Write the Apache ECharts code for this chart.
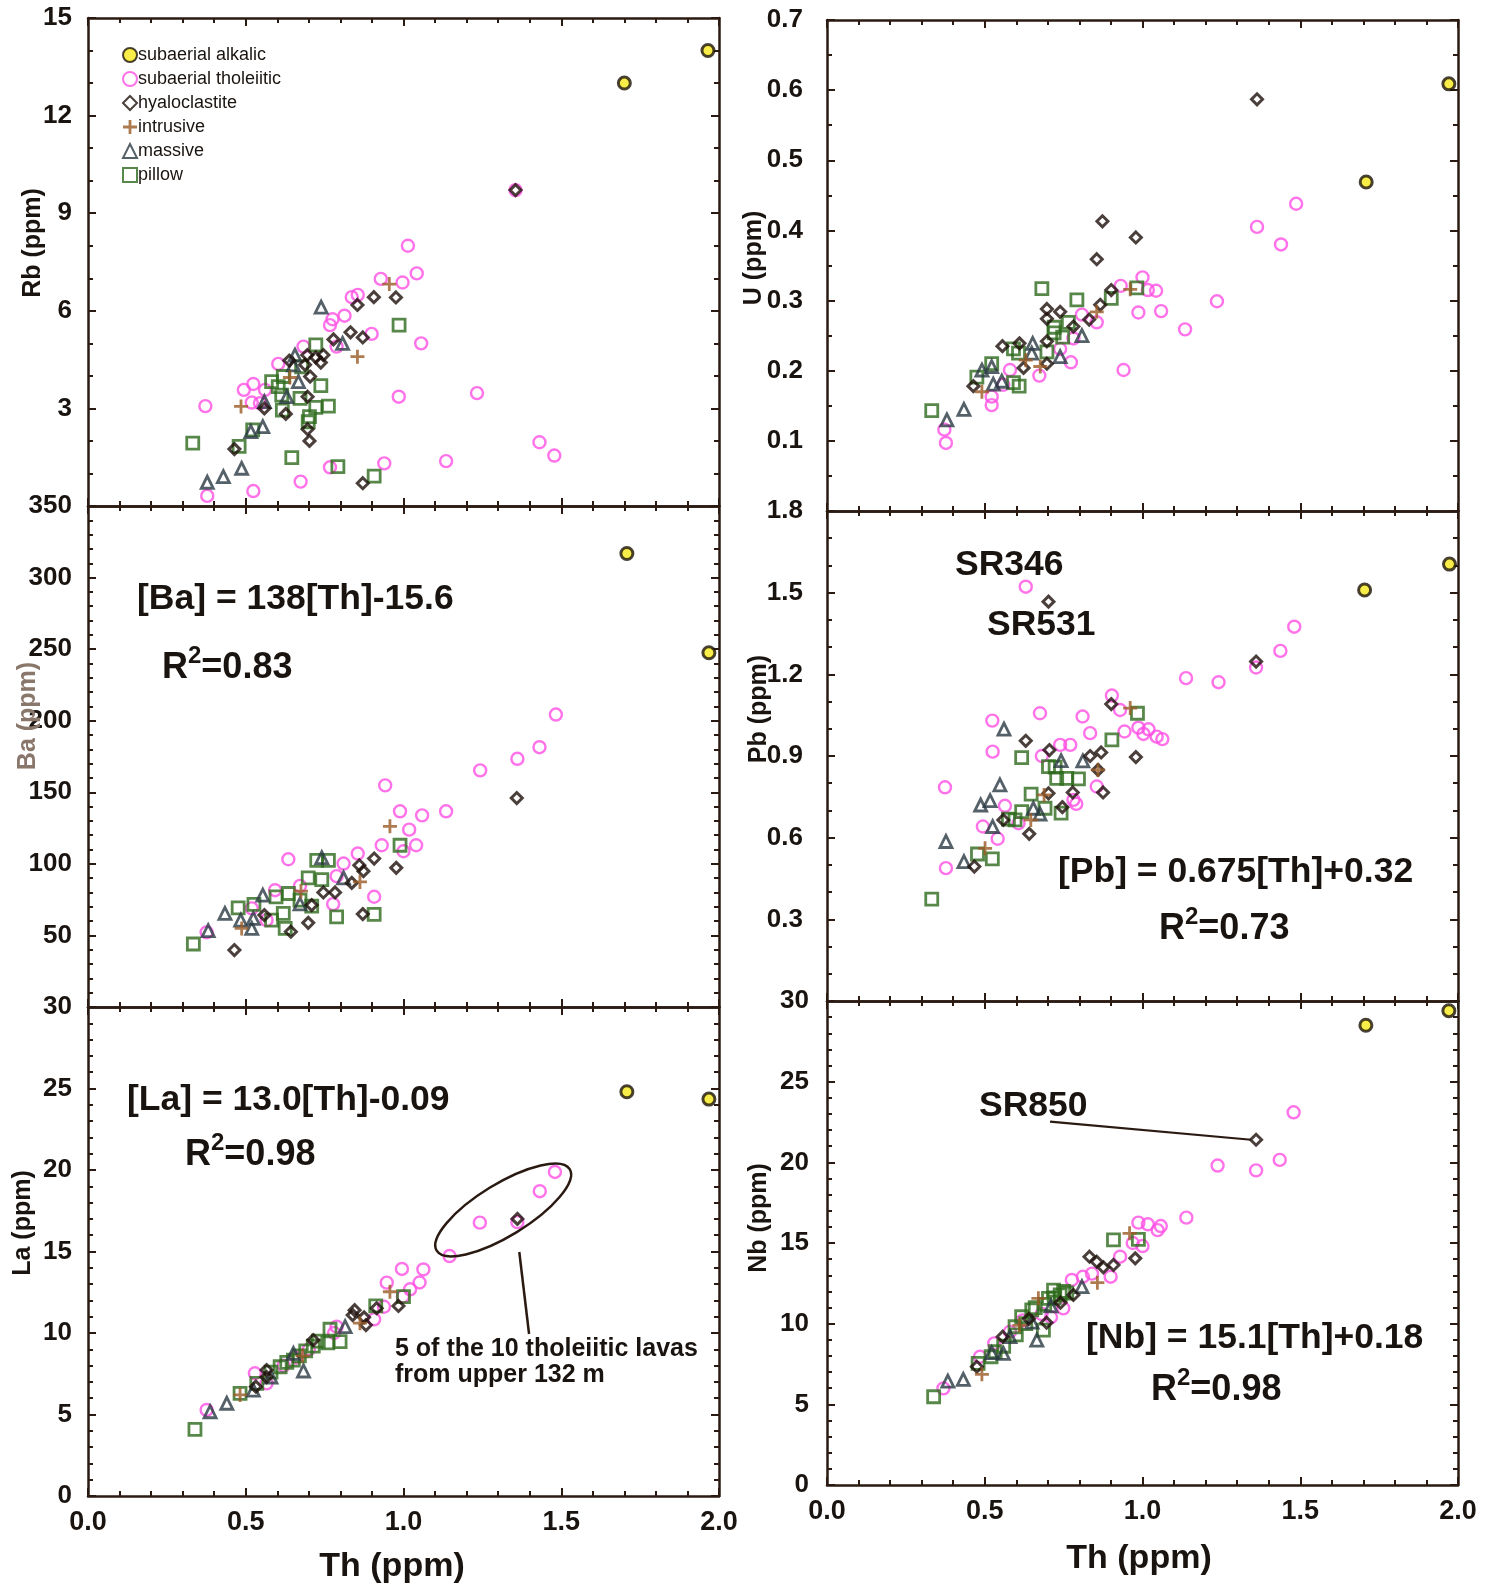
<!DOCTYPE html>
<html><head><meta charset="utf-8">
<script src="https://cdn.jsdelivr.net/npm/echarts@6/dist/echarts.min.js"></script>
<style>html,body{margin:0;padding:0;background:#fff}#c{width:1494px;height:1587px}</style>
</head><body><div id="c"></div><script>
// ---------- DATA (Th ppm, element ppm) ----------
const names = ['subaerial alkalic','subaerial tholeiitic','hyaloclastite','intrusive','massive','pillow'];
const xTicks = ['0.0','0.5','1.0','1.5','2.0'];

const rbAlkalic = [[1.70,13.0],[1.965,14.0]];
const rbThol = [[1.014,8.0],[1.042,7.15],[0.928,6.98],[0.997,6.87],[0.836,6.42],[0.855,6.49],[0.813,5.85],[0.775,5.74],[0.767,5.56],[0.899,5.29],[1.056,5.0],[0.788,4.9],[0.683,4.9],[0.603,4.37],[0.524,3.75],[0.494,3.57],[0.519,3.18],[0.545,3.16],[0.561,3.57],[0.372,3.07],[0.985,3.36],[1.233,3.47],[1.431,1.96],[1.478,1.55],[1.135,1.38],[0.939,1.31],[0.767,1.19],[0.674,0.75],[0.524,0.46],[0.378,0.31],[1.355,9.71]];
const rbHyalo = [[0.854,6.18],[0.906,6.42],[0.976,6.41],[0.832,5.34],[0.871,5.18],[0.778,5.12],[0.746,4.64],[0.695,4.64],[0.722,4.57],[0.738,4.41],[0.638,4.47],[0.688,4.34],[0.704,3.98],[0.696,3.36],[0.559,3.0],[0.627,2.83],[0.696,2.36],[0.702,2.0],[0.464,1.75],[0.871,0.70],[1.355,9.71]];
const rbIntr = [[0.955,6.82],[0.854,4.59],[0.485,3.06],[0.64,3.95]];
const rbMassive = [[0.739,6.11],[0.807,5.0],[0.656,4.64],[0.651,4.34],[0.667,3.82],[0.63,3.36],[0.559,3.21],[0.554,2.44],[0.516,2.29],[0.487,1.16],[0.429,0.9],[0.378,0.73]];
const rbPillow = [[0.986,5.56],[0.722,4.95],[0.582,3.82],[0.603,3.67],[0.619,3.98],[0.738,3.7],[0.677,4.28],[0.672,3.31],[0.614,3.41],[0.762,3.07],[0.722,3.03],[0.616,2.95],[0.702,2.75],[0.698,2.59],[0.522,2.34],[0.332,1.93],[0.479,1.83],[0.646,1.49],[0.792,1.21],[0.907,0.92]];

const baAlkalic = [[1.708,316.8],[1.968,247.5]];
const baThol = [[1.431,181.5],[1.361,173.4],[1.243,165.3],[0.942,154.8],[0.989,136.7],[1.059,133.9],[1.135,136.7],[1.018,123.9],[0.931,113],[1.04,113],[1.0,108.8],[0.855,107.2],[0.81,100.2],[0.635,103.2],[0.788,91.4],[0.907,77],[0.777,71.9],[0.593,81.6],[0.672,84.6],[0.376,52.1],[0.519,68.9],[0.566,60.7],[1.483,204.3]];
const baHyalo = [[1.359,146],[0.907,103.7],[0.977,97.2],[0.86,99],[0.873,94.9],[0.836,86.7],[0.783,80],[0.746,80],[0.871,64.9],[0.698,58.8],[0.643,52.6],[0.464,39.8],[0.709,71.2],[0.559,64.2]];
const baIntr = [[0.957,126.2],[0.862,87.4],[0.487,54.9],[0.675,81]];
const baMassive = [[0.741,104.4],[0.81,90.2],[0.554,78.1],[0.434,65.4],[0.484,60.7],[0.524,61.9],[0.519,54.9],[0.381,53.3],[0.672,72]];
const baPillow = [[0.725,102.5],[0.762,102.5],[0.989,113],[0.698,90.2],[0.741,89],[0.596,77],[0.635,79.3],[0.476,69.3],[0.526,71.7],[0.709,70.5],[0.672,74.7],[0.619,65.4],[0.788,63],[0.907,64.7],[0.625,54.9],[0.582,60.7],[0.334,44]];

const laAlkalic = [[1.708,24.8],[1.968,24.35]];
const laThol = [[1.146,14.72],[0.995,13.93],[1.063,13.9],[0.947,13.09],[1.051,13.1],[1.021,12.68],[0.998,12.23],[0.938,11.61],[0.907,10.84],[0.788,10.39],[0.78,10.0],[0.529,7.53],[0.566,6.91],[0.376,5.28],[0.62,8.0],[1.242,16.77],[1.432,18.7],[1.48,19.88],[1.361,16.8],[0.7,9.0],[0.66,8.5]];
const laHyalo = [[0.984,11.66],[0.839,11.1],[0.845,11.4],[0.875,10.96],[0.881,10.49],[0.915,11.52],[0.714,9.57],[0.566,7.73],[0.566,7.3],[0.532,6.71],[1.361,17.0]];
const laIntr = [[0.957,12.53],[0.862,10.6],[0.482,6.2],[0.68,8.6]];
const laMassive = [[0.815,10.39],[0.683,7.67],[0.651,8.75],[0.44,5.69],[0.387,5.17],[0.524,6.5],[0.58,7.3]];
const laPillow = [[1.0,12.23],[0.912,11.66],[0.767,10.23],[0.799,9.47],[0.76,9.4],[0.714,9.2],[0.651,8.34],[0.609,7.93],[0.535,6.91],[0.482,6.3],[0.339,4.09],[0.69,8.9],[0.63,8.2],[0.58,7.6],[0.73,9.5],[0.67,8.6]];

const uAlkalic = [[1.709,0.469],[1.971,0.609]];
const uThol = [[1.0,0.333],[0.931,0.321],[1.017,0.315],[1.043,0.314],[1.236,0.299],[0.987,0.283],[1.059,0.285],[1.135,0.259],[0.808,0.28],[0.855,0.269],[0.781,0.246],[0.739,0.231],[0.773,0.212],[0.94,0.201],[0.673,0.193],[0.58,0.201],[0.559,0.18],[0.522,0.163],[0.522,0.151],[0.372,0.116],[0.377,0.097],[1.363,0.405],[1.439,0.38],[1.487,0.438]];
const uHyalo = [[0.873,0.413],[0.979,0.39],[0.855,0.359],[0.901,0.315],[0.866,0.294],[0.697,0.288],[0.739,0.284],[0.697,0.274],[0.831,0.273],[0.781,0.263],[0.556,0.235],[0.61,0.239],[0.697,0.242],[0.697,0.21],[0.623,0.204],[0.464,0.178],[1.363,0.587]];
const uIntr = [[0.961,0.316],[0.855,0.284],[0.676,0.206],[0.491,0.17],[0.63,0.215]];
const uMassive = [[0.808,0.25],[0.739,0.22],[0.652,0.239],[0.649,0.225],[0.522,0.206],[0.491,0.201],[0.527,0.181],[0.554,0.185],[0.434,0.145],[0.38,0.13]];
const uPillow = [[0.681,0.317],[0.792,0.301],[0.901,0.303],[0.982,0.318],[0.765,0.269],[0.72,0.262],[0.72,0.254],[0.747,0.248],[0.591,0.231],[0.607,0.225],[0.697,0.227],[0.522,0.21],[0.475,0.191],[0.591,0.183],[0.609,0.178],[0.332,0.143]];

const pbAlkalic = [[1.704,1.51],[1.973,1.605]];
const pbThol = [[0.903,1.122],[0.929,1.069],[0.675,1.057],[0.81,1.045],[0.524,1.03],[0.834,0.984],[0.943,0.99],[0.987,1.004],[1.019,0.998],[1.003,0.981],[1.045,0.971],[1.063,0.962],[0.739,0.941],[0.771,0.941],[0.525,0.916],[0.681,0.9],[0.374,0.785],[0.855,0.788],[0.781,0.739],[0.79,0.724],[0.564,0.717],[0.607,0.653],[0.494,0.641],[0.541,0.596],[0.377,0.488],[1.138,1.186],[1.241,1.171],[1.36,1.225],[1.437,1.286],[1.481,1.375],[0.63,1.522]];
const pbHyalo = [[0.901,1.091],[0.63,0.956],[0.705,0.922],[0.834,0.9],[0.869,0.913],[0.979,0.896],[0.859,0.849],[0.875,0.766],[0.779,0.766],[0.702,0.763],[0.746,0.712],[0.559,0.665],[0.641,0.614],[0.467,0.494],[0.702,1.467],[1.36,1.247]];
const pbIntr = [[0.961,1.076],[0.859,0.849],[0.688,0.757],[0.646,0.665],[0.501,0.561]];
const pbMassive = [[0.561,0.999],[0.742,0.883],[0.811,0.882],[0.548,0.794],[0.517,0.736],[0.487,0.72],[0.654,0.708],[0.675,0.687],[0.525,0.641],[0.377,0.586],[0.434,0.512]];
const pbPillow = [[0.984,1.057],[0.903,0.959],[0.617,0.894],[0.702,0.861],[0.723,0.859],[0.728,0.818],[0.76,0.818],[0.797,0.816],[0.647,0.76],[0.691,0.708],[0.742,0.69],[0.617,0.696],[0.596,0.665],[0.575,0.668],[0.477,0.54],[0.524,0.522],[0.332,0.374]];

const nbAlkalic = [[1.708,28.5],[1.971,29.4]];
const nbThol = [[1.139,16.57],[0.987,16.26],[1.017,16.16],[1.048,15.8],[1.058,16.05],[1.0,14.81],[0.969,15.0],[0.929,14.15],[0.899,12.91],[0.811,12.91],[0.776,12.71],[0.749,10.95],[0.53,8.78],[0.485,7.95],[0.369,5.99],[0.71,10.4],[1.479,23.1],[1.435,20.15],[1.238,19.8],[1.36,19.5],[0.62,10.2],[0.58,9.5],[0.84,13.1],[0.68,10.6]];
const nbHyalo = [[0.832,14.15],[0.855,13.84],[0.876,13.49],[0.908,13.64],[0.977,14.05],[0.781,11.78],[0.696,10.06],[0.557,9.19],[0.475,7.33],[1.36,21.4],[0.64,10.3],[0.74,11.3]];
const nbIntr = [[0.959,15.6],[0.857,12.54],[0.67,11.57],[0.491,6.86],[0.61,9.9]];
const nbMassive = [[0.808,12.29],[0.665,8.98],[0.559,8.16],[0.522,8.2],[0.432,6.55],[0.383,6.44],[0.65,10.1],[0.71,11.1],[0.58,9.2]];
const nbPillow = [[0.908,15.19],[0.987,15.23],[0.718,12.08],[0.739,11.78],[0.702,11.57],[0.649,10.85],[0.617,10.43],[0.596,9.81],[0.686,9.6],[0.533,8.26],[0.52,7.95],[0.479,7.54],[0.338,5.47],[0.56,8.6],[0.66,11.0],[0.69,11.2],[0.72,11.6],[0.75,12.0],[0.63,10.0],[0.6,9.3],[0.76,11.9]];

// annotation anchors (data coordinates)
const sr850Line = [[0.707,22.52],[1.36,21.4]];
const ellipseCenter = [1.316,17.55];
const calloutLine = [[1.367,14.97],[1.398,9.94]];

// ---------- STYLE ----------
const FONT = '"Liberation Sans", Arial, Helvetica, sans-serif';
const NFONT = '"Liberation Sans Narrow", "Liberation Sans", Arial, sans-serif';
const AX = '#2a1a12';
const TXT = '#1a1410';
const HOLLOW = 'rgba(255,255,255,0)';
const styles = {
  'subaerial alkalic': {symbol:'circle', symbolSize:12, itemStyle:{color:'#f6e81c', borderColor:'#1a1208', borderWidth:3}},
  'subaerial tholeiitic': {symbol:'circle', symbolSize:12, itemStyle:{color:HOLLOW, borderColor:'#ff4fe4', borderWidth:2.4}},
  'hyaloclastite': {symbol:'diamond', symbolSize:11, itemStyle:{color:HOLLOW, borderColor:'#1e0f0a', borderWidth:3}},
  'intrusive': {symbol:'path://M4,0H6V4H10V6H6V10H4V6H0V4H4Z', symbolSize:14, itemStyle:{color:'#9a5a26'}},
  'massive': {symbol:'triangle', symbolSize:12, itemStyle:{color:HOLLOW, borderColor:'#2b3a43', borderWidth:2.8}},
  'pillow': {symbol:'rect', symbolSize:12, itemStyle:{color:HOLLOW, borderColor:'#2d6a1c', borderWidth:2.8}}
};
const drawOrder = [1,5,4,2,3,0];

const panels = [
  {grid:{left:88,top:18,width:631,height:488}, y:{min:0,max:15,interval:3,minor:3}, hideMin:true, bottom:false, fmt:v=>String(v), lm:16,
   sets:[rbAlkalic,rbThol,rbHyalo,rbIntr,rbMassive,rbPillow]},
  {grid:{left:88,top:506,width:631,height:501}, y:{min:0,max:350,interval:50,minor:5}, hideMin:true, bottom:false, fmt:v=>String(v), lm:16,
   sets:[baAlkalic,baThol,baHyalo,baIntr,baMassive,baPillow]},
  {grid:{left:88,top:1007,width:631,height:489}, y:{min:0,max:30,interval:5,minor:5}, hideMin:false, bottom:true, fmt:v=>String(v), lm:16,
   sets:[laAlkalic,laThol,laHyalo,laIntr,laMassive,laPillow]},
  {grid:{left:827,top:20,width:631,height:491}, y:{min:0,max:0.7,interval:0.1,minor:2}, hideMin:true, bottom:false, fmt:v=>v.toFixed(1), lm:24,
   sets:[uAlkalic,uThol,uHyalo,uIntr,uMassive,uPillow]},
  {grid:{left:827,top:511,width:631,height:490}, y:{min:0,max:1.8,interval:0.3,minor:3}, hideMin:true, bottom:false, fmt:v=>v.toFixed(1), lm:24,
   sets:[pbAlkalic,pbThol,pbHyalo,pbIntr,pbMassive,pbPillow]},
  {grid:{left:827,top:1001,width:631,height:484}, y:{min:0,max:30,interval:5,minor:5}, hideMin:false, bottom:true, fmt:v=>String(v), lm:18,
   sets:[nbAlkalic,nbThol,nbHyalo,nbIntr,nbMassive,nbPillow]}
];

const grids=[], xAxes=[], yAxes=[], series=[];
const lineS = {color:AX, width:2.5};
const tickS = {color:AX, width:2};
panels.forEach((p,i)=>{
  grids.push(Object.assign({show:false, containLabel:false, outerBoundsMode:'none'}, p.grid));
  ['bottom','top'].forEach(pos=>{
    xAxes.push({gridIndex:i, type:'value', position:pos, min:0, max:2, interval:0.5,
      axisLine:{show:true, onZero:false, lineStyle:lineS},
      axisTick:{show:true, inside:true, length:8, lineStyle:tickS},
      minorTick:{show:true, splitNumber:5, length:5, lineStyle:tickS},
      splitLine:{show:false}, minorSplitLine:{show:false},
      axisLabel:{show: pos==='bottom' && p.bottom, margin:13, fontSize:27, fontWeight:'bold', fontFamily:NFONT, color:TXT,
        formatter:v=>xTicks[Math.round(v/0.5)]}});
  });
  ['left','right'].forEach(pos=>{
    yAxes.push({gridIndex:i, type:'value', position:pos, min:p.y.min, max:p.y.max, interval:p.y.interval,
      axisLine:{show:true, onZero:false, lineStyle:lineS},
      axisTick:{show:true, inside:true, length:8, lineStyle:tickS},
      minorTick:{show:true, splitNumber:p.y.minor, length:5, lineStyle:tickS},
      splitLine:{show:false}, minorSplitLine:{show:false},
      axisLabel:{show: pos==='left', showMinLabel: !p.hideMin, showMaxLabel:true, margin:p.lm, fontSize:26, fontWeight:'bold', fontFamily:NFONT, color:TXT,
        formatter:p.fmt}});
  });
  drawOrder.forEach(k=>{
    const nm = names[k];
    series.push(Object.assign({type:'scatter', name:nm, xAxisIndex:2*i, yAxisIndex:2*i, data:p.sets[k],
      animation:false, silent:true, emphasis:{disabled:true}}, JSON.parse(JSON.stringify(styles[nm]))));
  });
});

const chart = echarts.init(document.getElementById('c'), null, {renderer:'canvas'});
chart.setOption({
  backgroundColor:'#ffffff', animation:false,
  grid:grids, xAxis:xAxes, yAxis:yAxes, series:series,
  legend:{data:names, orient:'vertical', left:117, top:41, itemWidth:14, itemHeight:14, itemGap:6, selectedMode:false,
    textStyle:{fontSize:18, fontFamily:FONT, color:TXT, padding:[0,0,0,-4]}}
});

const sIdx = i => i*6;
const P = (i,pt)=>chart.convertToPixel({seriesIndex:sIdx(i)}, pt);

function txt(x,y,text,size,align){
  return {type:'text', x:x, y:y, silent:true, z:100,
    style:{text:text, fontSize:size, fontWeight:'bold', fontFamily:FONT, fill:TXT, align:align||'left', verticalAlign:'middle'}};
}
function r2(x,y,val){
  return {type:'text', x:x, y:y, silent:true, z:100,
    style:{text:'{a|R}{b|2}{a|='+val+'}', align:'left', verticalAlign:'middle', fill:TXT,
      rich:{a:{fontSize:36, fontWeight:'bold', fontFamily:FONT, fill:TXT, lineHeight:42, verticalAlign:'bottom'},
            b:{fontSize:24, fontWeight:'bold', fontFamily:FONT, fill:TXT, lineHeight:42, verticalAlign:'top'}}}};
}
function rot(x,y,text,size,color){
  return {type:'text', x:x, y:y, rotation:Math.PI/2, silent:true, z:100,
    style:{text:text, fontSize:size, fontWeight:'bold', fontFamily:FONT, fill:color||TXT, align:'center', verticalAlign:'middle'}};
}

const g = [];
g.push(rot(33,243,'Rb (ppm)',25));
g.push(rot(28,716,'Ba (ppm)',25,'#8a776c'));
g.push(rot(23,1223,'La (ppm)',25));
g.push(rot(754,258,'U (ppm)',25));
g.push(rot(759,709,'Pb (ppm)',25));
g.push(rot(759,1218,'Nb (ppm)',25));
g.push(txt(392,1567,'Th (ppm)',34,'center'));
g.push(txt(1139,1559,'Th (ppm)',34,'center'));
g.push(txt(137,599,'[Ba] = 138[Th]-15.6',35.5));
g.push(r2(162,665,'0.83'));
g.push(txt(127,1100,'[La] = 13.0[Th]-0.09',35.5));
g.push(r2(185,1152,'0.98'));
g.push(txt(395,1349,'5 of the 10 tholeiitic lavas',25));
g.push(txt(395,1375,'from upper 132 m',25));
g.push(txt(955,565,'SR346',35.5));
g.push(txt(987,625,'SR531',35.5));
g.push(txt(1058,872,'[Pb] = 0.675[Th]+0.32',35.5));
g.push(r2(1159,926,'0.73'));
g.push(txt(979,1106,'SR850',35.5));
g.push(txt(1086,1338,'[Nb] = 15.1[Th]+0.18',35.5));
g.push(r2(1151,1387,'0.98'));
const a1 = P(5,sr850Line[0]), a2 = P(5,sr850Line[1]);
g.push({type:'line', silent:true, z:90, shape:{x1:a1[0],y1:a1[1],x2:a2[0]-5,y2:a2[1]}, style:{stroke:AX, lineWidth:2.2}});
const ec = P(2,ellipseCenter);
g.push({type:'ellipse', silent:true, z:90, x:ec[0], y:ec[1], rotation:0.55, shape:{cx:0,cy:0,rx:78,ry:26}, style:{fill:'none', stroke:AX, lineWidth:2.5}});
const c1 = P(2,calloutLine[0]), c2 = P(2,calloutLine[1]);
g.push({type:'line', silent:true, z:90, shape:{x1:c1[0],y1:c1[1],x2:c2[0],y2:c2[1]}, style:{stroke:AX, lineWidth:2.5}});

chart.setOption({graphic:{elements:g}});
</script></body></html>
